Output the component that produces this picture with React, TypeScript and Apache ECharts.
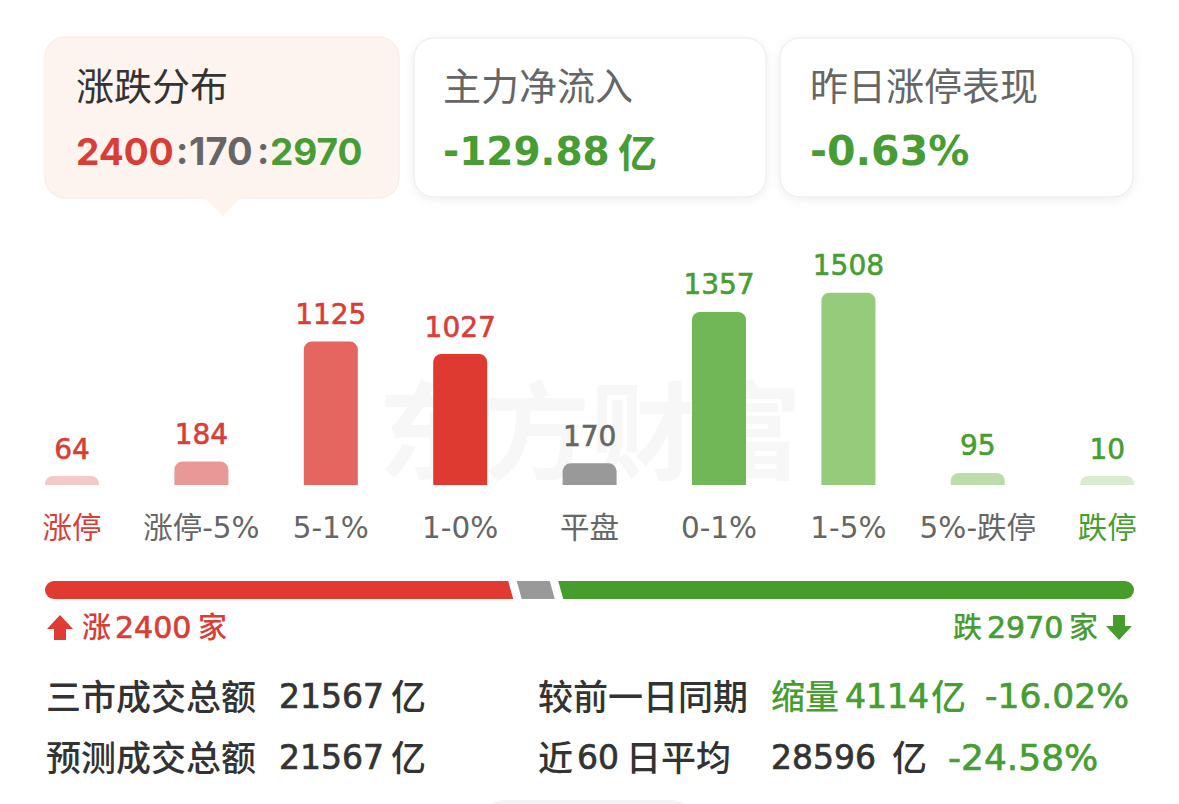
import { useEffect, useRef } from "react";
import * as echarts from "echarts";

const categories = ["涨停", "涨停-5%", "5-1%", "1-0%", "平盘", "0-1%", "1-5%", "5%-跌停", "跌停"];
const counts = [64, 184, 1125, 1027, 170, 1357, 1508, 95, 10];
const breadth = [2400, 170, 2970];

const RED = "#d93d36";
const GREEN = "#479d33";
const GREY = "#666666";
const DARK = "#333333";
const INTER = "Inter, 'Noto Sans CJK SC', sans-serif";
const WIDE = "'DejaVu Sans', 'Noto Sans CJK SC', sans-serif";
const CJK = "'Noto Sans CJK SC', sans-serif";

const barColors = ["#f5c9c9", "#e99797", "#e56561", "#df3a32", "#999999", "#72b757", "#96cb7c", "#bcdcac", "#d9ecd0"];
const labelColors = [RED, RED, RED, RED, GREY, GREEN, GREEN, GREEN, GREEN];
const axisColors = [RED, GREY, GREY, GREY, GREY, GREY, GREY, GREY, GREEN];
const breadthColors = ["#e03a33", "#999999", "#479d2c"];

const text = (
  t: string,
  x: number,
  y: number,
  fontSize: number,
  fill: string,
  fontWeight: number | string = 400,
  fontFamily = CJK
) => ({
  type: "text",
  x,
  y,
  z: 5,
  style: { text: t, fontSize, fill, fontWeight, fontFamily, verticalAlign: "middle", align: "left" },
});

// DejaVu has no medium weight, a thin outline of the same colour stands in for it
const num = (t: string, x: number, y: number, fontSize: number, fill: string) => {
  const el = text(t, x, y, fontSize, fill, 400, WIDE);
  return { ...el, style: { ...el.style, stroke: fill, lineWidth: 0.7 } };
};

const card = (x: number, y: number, width: number, height: number) => ({
  type: "rect",
  z: 1,
  shape: { x, y, width, height, r: 20 },
  style: {
    fill: "#ffffff",
    stroke: "#e9e9e9",
    lineWidth: 1,
    shadowBlur: 10,
    shadowOffsetY: 2,
    shadowColor: "rgba(0,0,0,0.07)",
  },
});

const graphics = [
  {
    type: "text",
    x: 590,
    y: 425,
    z: -10,
    style: {
      text: "东方财富",
      fontSize: 106,
      fontWeight: 700,
      fontFamily: CJK,
      fill: "#f7f7f7",
      align: "center",
      verticalAlign: "middle",
    },
  },
  // selected card and its pointer
  {
    type: "polygon",
    z: 2,
    shape: { points: [[203, 197], [242, 197], [223, 216]] },
    style: { fill: "#fdf4f0" },
  },
  {
    type: "rect",
    z: 1,
    shape: { x: 45, y: 37, width: 354, height: 161, r: 20 },
    style: { fill: "#fdf4f0", stroke: "#fae8e1", lineWidth: 1 },
  },
  card(414, 38, 352, 159),
  card(780, 38, 353, 159),
  text("涨跌分布", 76, 83, 38, DARK),
  text("主力净流入", 443, 83, 38, GREY),
  text("昨日涨停表现", 810, 83, 38, GREY),
  text("2400", 76, 151, 37, RED, 700, INTER),
  text(":", 176, 150, 37, GREY, 700, INTER),
  text("170", 189, 151, 38, GREY, 700, INTER),
  text(":", 257, 150, 37, GREY, 700, INTER),
  text("2970", 270, 151, 37, GREEN, 700, INTER),
  text("-129.88", 443, 151, 39, GREEN, 700, WIDE),
  text("亿", 618, 150, 39, GREEN, 700),
  text("-0.63%", 810, 151, 41, GREEN, 700, WIDE),
  // arrows and totals under the ratio bar
  {
    type: "polygon",
    z: 5,
    shape: { points: [[60, 615], [73, 629], [66, 629], [66, 640], [54, 640], [54, 629], [47, 629]] },
    style: { fill: "#dd3b34" },
  },
  text("涨", 82, 625, 29, RED, 500),
  num("2400", 115, 627, 30, RED),
  text("家", 198, 625, 29, RED, 500),
  text("跌", 953, 625, 29, GREEN, 500),
  num("2970", 987, 627, 30, GREEN),
  text("家", 1069, 625, 29, GREEN, 500),
  {
    type: "polygon",
    z: 5,
    shape: { points: [[1119, 640], [1106, 626], [1113, 626], [1113, 615], [1125, 615], [1125, 626], [1132, 626]] },
    style: { fill: "#479d2c" },
  },
  // turnover rows
  text("三市成交总额", 46, 694, 35, DARK, 500),
  num("21567", 279, 696, 33, DARK),
  text("亿", 391, 694, 35, DARK, 500),
  text("预测成交总额", 46, 755, 35, DARK, 500),
  num("21567", 279, 757, 33, DARK),
  text("亿", 391, 755, 35, DARK, 500),
  text("较前一日同期", 538, 694, 35, DARK, 500),
  text("缩量", 771, 694, 34, GREEN, 500),
  num("4114", 845, 696, 33, GREEN),
  text("亿", 931, 694, 35, GREEN, 500),
  num("-16.02%", 985, 696, 34.5, GREEN),
  text("近", 538, 755, 35, DARK, 500),
  num("60", 577, 757, 33, DARK),
  text("日平均", 626, 755, 35, DARK, 500),
  num("28596", 771, 757, 33, DARK),
  text("亿", 892, 755, 35, DARK, 500),
  num("-24.58%", 948, 757, 36, GREEN),
  // top of the sheet peeking in at the bottom edge
  {
    type: "rect",
    z: 1,
    shape: { x: 488, y: 800, width: 200, height: 30, r: 14 },
    style: { fill: "#f3f3f3" },
  },
];

// the grey segment keeps a minimum width, so its slanted edges sit a little off scale
const edgeNudge = [0, 0.7, 8.8, 0];
const SLANT = 5;
const GAP = 4.25;

function renderBreadth(params: any, api: any) {
  const i = params.dataIndex;
  const from = api.coord([api.value(0), 0]);
  const to = api.coord([api.value(1), 0]);
  const h = api.size([0, 1])[1];
  const top = from[1] - h / 2;
  const bottom = top + h;
  const r = h / 2;
  const x0 = from[0] + edgeNudge[i];
  const x1 = to[0] + edgeNudge[i + 1];
  let d: string;
  if (i === 0) {
    d = `M${x0 + r} ${top}L${x1 - GAP - SLANT} ${top}L${x1 - GAP} ${bottom}L${x0 + r} ${bottom}A${r} ${r} 0 0 1 ${x0 + r} ${top}Z`;
  } else if (i === breadth.length - 1) {
    d = `M${x0 + GAP - SLANT} ${top}L${x1 - r} ${top}A${r} ${r} 0 0 1 ${x1 - r} ${bottom}L${x0 + GAP} ${bottom}Z`;
  } else {
    d = `M${x0 + GAP - SLANT} ${top}L${x1 - GAP - SLANT} ${top}L${x1 - GAP} ${bottom}L${x0 + GAP} ${bottom}Z`;
  }
  return { type: "path", shape: { pathData: d }, style: { fill: breadthColors[i] } };
}

export default function App() {
  const chartRef = useRef<HTMLDivElement>(null);

  useEffect(() => {
    document.body.style.margin = "0";
    document.body.style.background = "#ffffff";
    const chart = echarts.init(chartRef.current, null, { renderer: "svg" });

    let running = 0;
    const breadthData = breadth.map((v) => {
      const row = [running, running + v, 0];
      running += v;
      return row;
    });

    chart.setOption({
      animation: false,
      backgroundColor: "#ffffff",
      graphic: graphics,
      grid: [
        { left: 7.3, width: 1164.6, top: 281, height: 204 },
        { left: 45, width: 1089, top: 581, height: 18 },
      ],
      xAxis: [
        {
          type: "category",
          gridIndex: 0,
          data: categories,
          axisLine: { show: false },
          axisTick: { show: false },
          axisLabel: {
            interval: 0,
            margin: 28,
            fontSize: 29.5,
            fontFamily: WIDE,
            color: (_: string, i: number) => axisColors[i],
          },
        },
        { type: "value", gridIndex: 1, min: 0, max: running, show: false },
      ],
      yAxis: [
        { type: "value", gridIndex: 0, min: 0, max: 1600, show: false },
        { type: "category", gridIndex: 1, data: ["ratio"], show: false },
      ],
      series: [
        {
          type: "bar",
          xAxisIndex: 0,
          yAxisIndex: 0,
          barWidth: 54,
          barMinHeight: 9,
          data: counts.map((value, i) => ({
            value,
            itemStyle: { color: barColors[i], borderRadius: [8, 8, 0, 0] },
            label: { color: labelColors[i], textBorderColor: labelColors[i], textBorderWidth: 0.6 },
          })),
          label: {
            show: true,
            position: "top",
            distance: 13,
            fontSize: 28,
            fontFamily: WIDE,
          },
        },
        {
          type: "custom",
          xAxisIndex: 1,
          yAxisIndex: 1,
          clip: false,
          encode: { x: [0, 1], y: 2 },
          data: breadthData,
          renderItem: renderBreadth,
        },
      ],
    });

    return () => chart.dispose();
  }, []);

  return <div ref={chartRef} style={{ width: 1179, height: 804 }} />;
}
